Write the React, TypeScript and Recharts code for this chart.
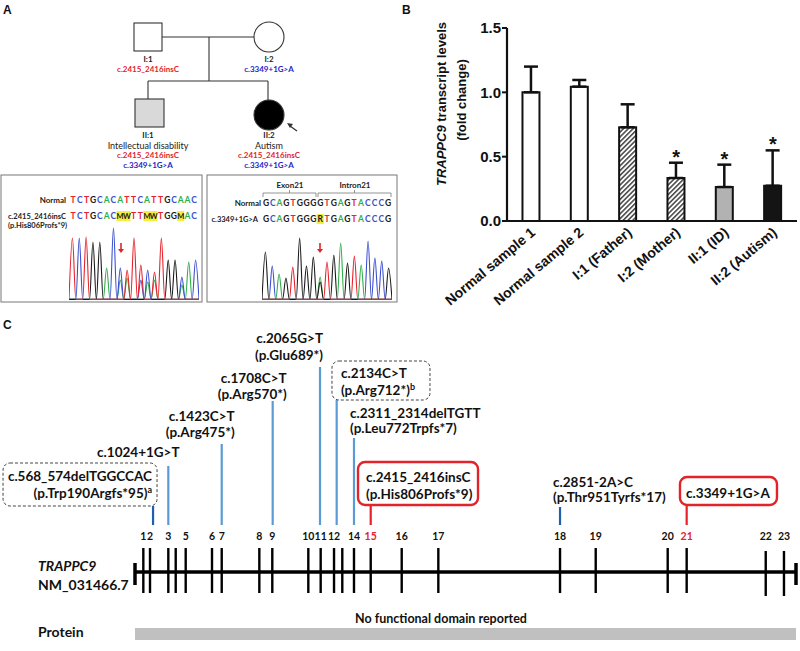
import React from 'react';
import {
  ComposedChart, Bar, Line, XAxis, YAxis, ErrorBar, Cell, LineChart,
  ReferenceLine, ReferenceArea, Scatter,
} from 'recharts';

// ---------------- Panel B data ----------------
const sampleNames = ['Normal sample 1', 'Normal sample 2', 'I:1 (Father)', 'I:2 (Mother)', 'II:1 (ID)', 'II:2 (Autism)'];
const foldChange = [1.0, 1.044, 0.728, 0.334, 0.264, 0.274];
const foldChangeSD = [0.2, 0.052, 0.179, 0.119, 0.174, 0.275];
const significant = [false, false, false, true, true, true];
const barFills = ['#ffffff', '#ffffff', 'url(#hatchB)', 'url(#hatchB)', '#b2b2b2', '#141414'];
const yTicks = [0, 0.5, 1.0, 1.5];

// ---------------- Panel A data ----------------
const leftSeqNormal = 'TCTGCACATTCATTGCAAC';
const leftSeqMutant = 'TCTGCACMWTTMWTGGMAC';
const rightSeqNormal = 'GCAGTGGGGTGAGTACCCG';
const rightSeqMutant = 'GCAGTGGGRTGAGTACCCG';
const leftPeaksT = [62, 0, 63, 0, 0, 0, 0, 0, 30, 62, 35, 0, 28, 62, 0, 0, 0, 0, 0];
const leftPeaksC = [0, 62, 0, 0, 0, 0, 72, 32, 0, 0, 20, 30, 0, 0, 0, 0, 23, 0, 40];
const leftPeaksA = [0, 0, 0, 0, 0, 32, 0, 20, 22, 0, 0, 18, 20, 0, 0, 0, 15, 38, 0];
const leftPeaksG = [0, 0, 0, 58, 58, 0, 0, 0, 0, 0, 0, 0, 0, 0, 40, 40, 0, 0, 0];
const rightPeaksT = [0, 0, 0, 0, 33, 0, 0, 0, 0, 38, 0, 0, 0, 44, 0, 0, 0, 0, 0];
const rightPeaksC = [0, 34, 0, 0, 0, 0, 0, 0, 0, 0, 0, 0, 0, 0, 0, 59, 42, 39, 0];
const rightPeaksA = [0, 0, 26, 0, 0, 0, 0, 0, 23, 0, 0, 57, 0, 0, 35, 0, 0, 0, 0];
const rightPeaksG = [48, 0, 0, 22, 0, 62, 34, 43, 18, 0, 45, 0, 37, 0, 0, 0, 0, 0, 32];

// ---------------- Panel C data ----------------
const exonNumbers = [1, 2, 3, 4, 5, 6, 7, 8, 9, 10, 11, 12, 13, 14, 15, 16, 17, 18, 19, 20, 21, 22, 23];
const exonPos = [12.6, 22.7, 50.4, 61.6, 76.7, 116.5, 131.2, 188.1, 207.7, 262.2, 280.9, 301.1, 313.6, 331.3, 356.6, 403.5, 458.9, 643.0, 697.0, 805.9, 834.6, 954.2, 981.8];
const hiddenExonLabels = [4, 13];
const highlightExons = [15, 21];
const mutationCDNA = ['c.568_574delTGGCCAC', 'c.1024+1G>T', 'c.1423C>T', 'c.1708C>T', 'c.2065G>T', 'c.2134C>T', 'c.2311_2314delTGTT', 'c.2415_2416insC', 'c.2851-2A>C', 'c.3349+1G>A'];
const mutationProtein = ['(p.Trp190Argfs*95)', '', '(p.Arg475*)', '(p.Arg570*)', '(p.Glu689*)', '(p.Arg712*)', '(p.Leu772Trpfs*7)', '(p.His806Profs*9)', '(p.Thr951Tyrfs*17)', ''];
const mutationNote = ['a', '', '', '', '', 'b', '', '', '', ''];
const mutationPos = [27.3, 50.4, 131.2, 208.3, 279.9, 305.1, 331.3, 356.6, 643.0, 834.6];
const mutationKind = ['boxed', 'plain', 'plain', 'plain', 'plain', 'boxed', 'plain', 'study', 'plain', 'study'];

// ---------------- styling / layout ----------------
const FONT = 'Lato, "Open Sans", sans-serif';
const ARIAL = '"Liberation Sans", Arial, sans-serif';
const RED = '#e3232a';
const BLUE_TXT = '#2626c8';
const baseColor: Record<string, string> = { T: '#e8212a', C: '#3a4fd0', A: '#2fae48', G: '#1a1a1a', M: '#1a1a1a', W: '#1a1a1a', R: '#1a1a1a' };
const MUT_FS = 13.5;

const stemTop = [66, 106, 128, 171, 205, 172, 134, 67, 65, 67];
const stemColors = ['#1f5fae', '#5b9bd5', '#5b9bd5', '#5b9bd5', '#5b9bd5', '#5b9bd5', '#5b9bd5', RED, '#1f5fae', RED];
const labelLayout: { anchor: 'start' | 'middle' | 'end'; dx: number; dy1: number; dy2: number; box?: number[] }[] = [
  { anchor: 'end', dx: -1, dy1: -25, dy2: -8.5, box: [-150, -43, 154, 43] },
  { anchor: 'middle', dx: -30, dy1: -9, dy2: 0 },
  { anchor: 'end', dx: 13, dy1: -23.5, dy2: -7.5 },
  { anchor: 'end', dx: 14, dy1: -18.5, dy2: -2.5 },
  { anchor: 'end', dx: 3, dy1: -24.5, dy2: -7.5 },
  { anchor: 'start', dx: 4.3, dy1: -22.5, dy2: -5.5, box: [-4.7, -39, 98, 39] },
  { anchor: 'start', dx: -4, dy1: -20.5, dy2: -5.5 },
  { anchor: 'start', dx: -4.7, dy1: -23.5, dy2: -6.5, box: [-12.7, -43, 120, 43] },
  { anchor: 'start', dx: -7, dy1: -20.5, dy2: -5.5 },
  { anchor: 'middle', dx: 41.3, dy1: -7.5, dy2: 0, box: [-6.7, -28, 97, 28] },
];

// ---------------- Panel B ----------------
const barData = sampleNames.map((name, i) => ({
  name,
  value: foldChange[i],
  err: [0, foldChangeSD[i]],
  star: significant[i] ? foldChange[i] + foldChangeSD[i] : null,
}));

const XTick = (p: any) => {
  const { x, y, payload } = p;
  const x0 = x + 5;
  const y0 = y + 11;
  return (
    <text x={x0} y={y0} transform={`rotate(-40 ${x0} ${y0})`} textAnchor="end"
      fontFamily={ARIAL} fontWeight={700} fontSize={14} fill="#111">
      {payload.value}
    </text>
  );
};

const renderStar = (p: any) => {
  const { cx, cy, value, index } = p;
  if (value == null || cy == null || isNaN(cy)) return <g key={`s${index}`} />;
  return (
    <text key={`s${index}`} x={cx} y={cy + 1} textAnchor="middle" fontSize={20}
      fontWeight={700} fontFamily={ARIAL} fill="#111">*</text>
  );
};

const PanelB = () => (
  <ComposedChart width={400} height={330} data={barData}
    margin={{ top: 28, right: 3, bottom: 9, left: 57 }} barCategoryGap="32%">
    <defs>
      <pattern id="hatchB" patternUnits="userSpaceOnUse" width={3.4} height={3.4} patternTransform="rotate(45)">
        <rect width={3.4} height={3.4} fill="#ffffff" />
        <line x1={0.8} y1={0} x2={0.8} y2={3.4} stroke="#222" strokeWidth={1.3} />
      </pattern>
    </defs>
    <XAxis dataKey="name" interval={0} tickLine={false} tickSize={0}
      axisLine={{ stroke: '#111', strokeWidth: 2.2 }} height={100} tick={<XTick />} />
    <YAxis domain={[0, 1.5]} ticks={yTicks} width={50} tickFormatter={(v: number) => v.toFixed(1)}
      axisLine={{ stroke: '#111', strokeWidth: 2.2 }} tickLine={{ stroke: '#111', strokeWidth: 2 }}
      tickSize={5} tickMargin={1}
      tick={{ fill: '#111', fontSize: 15, fontWeight: 700, fontFamily: ARIAL }} />
    <Bar dataKey="value" stroke="#111" strokeWidth={2} isAnimationActive={false}>
      {barFills.map((f, i) => <Cell key={i} fill={f} />)}
      <ErrorBar dataKey="err" width={7} stroke="#111" strokeWidth={2.5} direction="y" />
    </Bar>
    <Line dataKey="star" stroke="none" dot={renderStar} activeDot={false} isAnimationActive={false} legendType="none" />
  </ComposedChart>
);

// ---------------- Chromatograms ----------------
function traceData(T: number[], C: number[], A: number[], G: number[]) {
  const out: any[] = [];
  for (let i = 0; i < T.length; i++) {
    out.push({ x: i - 0.5, T: 0.6, C: 0.6, A: 0.6, G: 0.6 });
    out.push({ x: i, T: T[i] || 0.6, C: C[i] || 0.6, A: A[i] || 0.6, G: G[i] || 0.6 });
  }
  out.push({ x: T.length - 0.5, T: 0.6, C: 0.6, A: 0.6, G: 0.6 });
  return out;
}

const Chromatogram = ({ data }: { data: any[] }) => (
  <LineChart width={130} height={73} data={data} margin={{ top: 0, right: 0, bottom: 0, left: 0 }}>
    <XAxis type="number" dataKey="x" domain={[-0.5, 18.5]} hide />
    <YAxis type="number" domain={[0, 73]} hide />
    <Line type="monotone" dataKey="A" stroke={baseColor.A} strokeWidth={1.1} dot={false} isAnimationActive={false} />
    <Line type="monotone" dataKey="C" stroke={baseColor.C} strokeWidth={1.1} dot={false} isAnimationActive={false} />
    <Line type="monotone" dataKey="G" stroke={baseColor.G} strokeWidth={1.1} dot={false} isAnimationActive={false} />
    <Line type="monotone" dataKey="T" stroke={baseColor.T} strokeWidth={1.1} dot={false} isAnimationActive={false} />
  </LineChart>
);

// ---------------- Panel C ----------------
const ExonLabel = (p: any) => {
  const { cx, cy, payload } = p;
  if (hiddenExonLabels.includes(payload.n)) return <g />;
  return (
    <text x={cx} y={cy} textAnchor="middle" fontFamily={FONT} fontWeight={700} fontSize={10.5}
      fill={highlightExons.includes(payload.n) ? RED : '#111'}>{payload.n}</text>
  );
};

const MutLabel = (p: any) => {
  const { cx, cy, payload } = p;
  const i = payload.i;
  const L = labelLayout[i];
  const study = mutationKind[i] === 'study';
  const tx = cx + L.dx;
  return (
    <g>
      {L.box && (
        <rect x={cx + L.box[0]} y={cy + L.box[1]} width={L.box[2]} height={L.box[3]} rx={7}
          fill="none" stroke={study ? RED : '#444'} strokeWidth={study ? 2.4 : 1}
          strokeDasharray={study ? undefined : '3 2'} />
      )}
      <text x={tx} y={cy + L.dy1} textAnchor={L.anchor} fontFamily={FONT} fontWeight={700} fontSize={MUT_FS} fill="#111">
        {mutationCDNA[i]}
      </text>
      {mutationProtein[i] && (
        <text x={tx} y={cy + L.dy2} textAnchor={L.anchor} fontFamily={FONT} fontWeight={700} fontSize={MUT_FS} fill="#111">
          {mutationProtein[i]}
          {mutationNote[i] && <tspan fontSize={9} dy={-5}>{mutationNote[i]}</tspan>}
        </text>
      )}
    </g>
  );
};

const PanelC = () => {
  const exonPts = exonNumbers.map((n, i) => ({ x: exonPos[i], y: 32, n }));
  const mutPts = mutationPos.map((x, i) => ({ x, y: stemTop[i], i }));
  return (
    <ComposedChart width={800} height={331} margin={{ top: 0, right: 4, bottom: 0, left: 135 }} style={{ overflow: 'visible' }}>
      <XAxis type="number" dataKey="x" domain={[0, 1000]} hide />
      <YAxis type="number" dataKey="y" domain={[-79, 252]} hide />
      <ReferenceArea x1={0} x2={1000} y1={-68} y2={-56} fill="#c0c0c0" fillOpacity={1} stroke="none" ifOverflow="visible" />
      <ReferenceLine segment={[{ x: 0, y: 0 }, { x: 1000, y: 0 }]} stroke="#000" strokeWidth={3.5} ifOverflow="visible" />
      <ReferenceLine segment={[{ x: 0, y: 9 }, { x: 0, y: -13 }]} stroke="#000" strokeWidth={3.5} ifOverflow="visible" />
      <ReferenceLine segment={[{ x: 1000, y: 9 }, { x: 1000, y: -13 }]} stroke="#000" strokeWidth={3.5} ifOverflow="visible" />
      {exonPos.map((p, i) => (
        <ReferenceLine key={`e${i}`} ifOverflow="visible"
          segment={[{ x: p, y: exonNumbers[i] >= 22 ? 21 : 24 }, { x: p, y: exonNumbers[i] >= 22 ? -24 : -21 }]}
          stroke="#000" strokeWidth={2.4} />
      ))}
      {mutationPos.map((p, i) => (
        <ReferenceLine key={`m${i}`} ifOverflow="visible"
          segment={[{ x: p, y: stemTop[i] }, { x: p, y: 47 }]} stroke={stemColors[i]} strokeWidth={2.2} />
      ))}
      <Scatter data={exonPts} shape={(p: any) => <ExonLabel {...p} />} isAnimationActive={false} />
      <Scatter data={mutPts} shape={(p: any) => <MutLabel {...p} />} isAnimationActive={false} />
    </ComposedChart>
  );
};

// ---------------- Overlay (panel A pedigree, sequences, static texts) ----------------
const SeqRow = ({ seq, x0, step, y, hl }: { seq: string; x0: number; step: number; y: number; hl: number[][] }) => (
  <g>
    {hl.map(([a, b], k) => (
      <rect key={k} x={x0 + a * step - 3.6} y={y - 8} width={(b - a) * step + 7.2} height={10} fill="#f4ee3c" />
    ))}
    {seq.split('').map((c, i) => (
      <text key={i} x={x0 + i * step} y={y} textAnchor="middle" fontFamily={FONT} fontWeight={700}
        fontSize={/[MW]/.test(c) ? 7.5 : 8.5} fill={baseColor[c]}>{c}</text>
    ))}
  </g>
);

const Arrow = ({ x, y1, y2 }: { x: number; y1: number; y2: number }) => (
  <g>
    <line x1={x} y1={y1} x2={x} y2={y2 - 3} stroke={RED} strokeWidth={1.6} />
    <polygon points={`${x - 3},${y2 - 4} ${x + 3},${y2 - 4} ${x},${y2}`} fill={RED} />
  </g>
);

const Overlay = () => {
  const t = { fontFamily: FONT, fontWeight: 700, fontSize: 8 } as const;
  return (
    <svg width={800} height={651} style={{ position: 'absolute', left: 0, top: 0, pointerEvents: 'none' }}>
      {/* panel letters */}
      <text x={3} y={14} fontFamily={ARIAL} fontWeight={700} fontSize={12} fill="#111">A</text>
      <text x={402} y={14} fontFamily={ARIAL} fontWeight={700} fontSize={12} fill="#111">B</text>
      <text x={3} y={329} fontFamily={ARIAL} fontWeight={700} fontSize={12} fill="#111">C</text>

      {/* pedigree */}
      <g stroke="#333" strokeWidth={1.1} fill="none">
        <line x1={162} y1={37} x2={254} y2={37} />
        <line x1={209} y1={37} x2={209} y2={81} />
        <line x1={148} y1={81} x2={268} y2={81} />
        <line x1={148} y1={81} x2={148} y2={99} />
        <line x1={268} y1={81} x2={268} y2={100} />
        <rect x={134} y={23} width={28} height={28} fill="#fff" />
        <circle cx={269} cy={37} r={15} fill="#fff" />
        <rect x={135} y={99} width={29} height={28} fill="#d9d9d9" />
        <circle cx={269} cy={115} r={15} fill="#000" />
        <line x1={297} y1={131} x2={290} y2={126} strokeWidth={1.3} />
      </g>
      <polygon points="287,123 293,124 290,128" fill="#333" />
      <text x={148} y={62} textAnchor="middle" {...t} fill="#222">I:1</text>
      <text x={148} y={72} textAnchor="middle" {...t} fill={RED}>c.2415_2416insC</text>
      <text x={269} y={62} textAnchor="middle" {...t} fill="#222">I:2</text>
      <text x={269} y={72} textAnchor="middle" {...t} fill={BLUE_TXT}>c.3349+1G&gt;A</text>
      <text x={148} y={138} textAnchor="middle" {...t} fill="#222">II:1</text>
      <text x={148} y={148.5} textAnchor="middle" fontFamily={FONT} fontSize={9} fill="#222">Intellectual disability</text>
      <text x={148} y={158} textAnchor="middle" {...t} fill={RED}>c.2415_2416insC</text>
      <text x={148} y={168} textAnchor="middle" {...t} fill={BLUE_TXT}>c.3349+1G&gt;A</text>
      <text x={269} y={138} textAnchor="middle" {...t} fill="#222">II:2</text>
      <text x={269} y={148.5} textAnchor="middle" fontFamily={FONT} fontSize={9} fill="#222">Autism</text>
      <text x={269} y={158} textAnchor="middle" {...t} fill={RED}>c.2415_2416insC</text>
      <text x={269} y={168} textAnchor="middle" {...t} fill={BLUE_TXT}>c.3349+1G&gt;A</text>

      {/* sequence boxes */}
      <rect x={1} y={175} width={201} height={127} fill="none" stroke="#777" strokeWidth={1} />
      <rect x={207} y={175} width={190} height={127} fill="none" stroke="#777" strokeWidth={1} />

      <text x={66} y={203} textAnchor="end" {...t} fill="#222">Normal</text>
      <SeqRow seq={leftSeqNormal} x0={73} step={6.73} y={203} hl={[]} />
      <text x={66} y={219} textAnchor="end" {...t} fontSize={7.5} fill="#222">c.2415_2416insC</text>
      <text x={8} y={227.5} {...t} fontSize={7.5} fill="#222">(p.His806Profs*9)</text>
      <SeqRow seq={leftSeqMutant} x0={73} step={6.73} y={219} hl={[[7, 8], [11, 12], [16, 16]]} />
      <Arrow x={121} y1={243} y2={253} />

      <text x={290} y={188} textAnchor="middle" {...t} fill="#222">Exon21</text>
      <text x={355} y={188} textAnchor="middle" {...t} fill="#222">Intron21</text>
      <path d="M263,197 V193 H316 V197 M289.5,193 V190" fill="none" stroke="#888" strokeWidth={0.9} />
      <path d="M318,197 V193 H391 V197 M354.5,193 V190" fill="none" stroke="#888" strokeWidth={0.9} />
      <text x={261} y={206} textAnchor="end" {...t} fill="#222">Normal</text>
      <SeqRow seq={rightSeqNormal} x0={266} step={6.78} y={206} hl={[]} />
      <text x={258} y={222} textAnchor="end" {...t} fontSize={7.5} fill="#222">c.3349+1G&gt;A</text>
      <SeqRow seq={rightSeqMutant} x0={266} step={6.78} y={222} hl={[[8, 8]]} />
      <Arrow x={320} y1={243} y2={253} />

      {/* panel B y label */}
      <g transform="rotate(-90 446 104)">
        <text x={446} y={104} textAnchor="middle" fontFamily={ARIAL} fontWeight={700} fontSize={13} fill="#111">
          <tspan fontStyle="italic">TRAPPC9</tspan> transcript levels
        </text>
      </g>
      <g transform="rotate(-90 466 100)">
        <text x={466} y={100} textAnchor="middle" fontFamily={ARIAL} fontWeight={700} fontSize={13} fill="#111">(fold change)</text>
      </g>

      {/* panel C static texts */}
      <text x={38} y={571} fontFamily={FONT} fontWeight={700} fontStyle="italic" fontSize={14} fill="#111">TRAPPC9</text>
      <text x={38} y={590} fontFamily={FONT} fontWeight={700} fontSize={14} fill="#111">NM_031466.7</text>
      <text x={38} y={637} fontFamily={FONT} fontWeight={700} fontSize={14} fill="#111">Protein</text>
      <text x={441} y={623} textAnchor="middle" fontFamily={FONT} fontWeight={700} fontSize={12.5} fill="#111">No functional domain reported</text>
    </svg>
  );
};

export default function App() {
  const leftTrace = traceData(leftPeaksT, leftPeaksC, leftPeaksA, leftPeaksG);
  const rightTrace = traceData(rightPeaksT, rightPeaksC, rightPeaksA, rightPeaksG);
  return (
    <div style={{ position: 'absolute', left: 0, top: 0, width: 800, height: 651, background: '#fff', overflow: 'hidden', fontFamily: FONT }}>
      <div style={{ position: 'absolute', left: 400, top: 0 }}><PanelB /></div>
      <div style={{ position: 'absolute', left: 68.5, top: 227 }}><Chromatogram data={leftTrace} /></div>
      <div style={{ position: 'absolute', left: 262.3, top: 227 }}><Chromatogram data={rightTrace} /></div>
      <div style={{ position: 'absolute', left: 0, top: 320 }}><PanelC /></div>
      <Overlay />
    </div>
  );
}
